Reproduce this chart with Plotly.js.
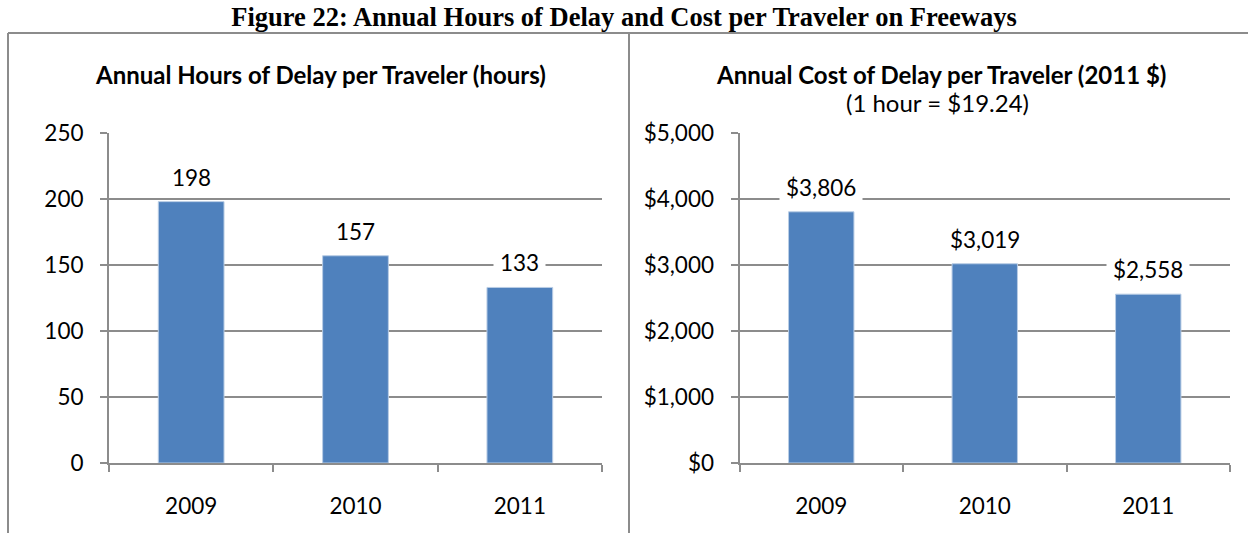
<!DOCTYPE html>
<html><head><meta charset="utf-8">
<script src="https://cdn.plot.ly/plotly-3.0.1.min.js"></script>
<style>html,body{margin:0;padding:0;background:#fff;}#chart{width:1248px;height:533px;}</style>
</head><body><div id="chart"></div>
<script>
const years = ['2009', '2010', '2011'];
const hoursPerTraveler = [198, 157, 133];
const costPerTraveler = [3806, 3019, 2558];
const hoursTicks = [0, 50, 100, 150, 200, 250];
const costTicks = [0, 1000, 2000, 3000, 4000, 5000];
const mainTitle = 'Figure 22: Annual Hours of Delay and Cost per Traveler on Freeways';
const leftTitle = 'Annual Hours of Delay per Traveler (hours)';
const rightTitle = 'Annual Cost of Delay per Traveler (2011 $)';
const rightSubtitle = '(1 hour = $19.24)';

const W = 1248, H = 533;
const px = v => v / W;
const py = v => 1 - v / H;
const barColor = '#4F81BD';
const gray = '#8c8c8c';
const font = 'Lato, "Open Sans", sans-serif';
const money = v => '$' + v.toLocaleString('en-US');

const traces = [
  {type: 'bar', x: years, y: hoursPerTraveler, xaxis: 'x', yaxis: 'y',
   marker: {color: barColor, line: {color: '#b9cde5', width: 1}}, hoverinfo: 'skip'},
  {type: 'bar', x: years, y: costPerTraveler, xaxis: 'x2', yaxis: 'y2',
   marker: {color: barColor, line: {color: '#b9cde5', width: 1}}, hoverinfo: 'skip'}
];

const axisCommon = {
  showline: true, linecolor: gray, linewidth: 2,
  ticks: 'outside', ticklen: 7, tickcolor: gray, tickwidth: 2,
  tickfont: {family: font, size: 22.5, color: '#000'},
  zeroline: false, fixedrange: true
};

const yDom = [py(463), py(133)];

const annotations = [];
years.forEach((yr, i) => {
  annotations.push({x: i, y: hoursPerTraveler[i], xref: 'x', yref: 'y',
    text: String(hoursPerTraveler[i]), showarrow: false, yanchor: 'bottom', yshift: 4,
    bgcolor: '#fff', borderpad: 6, font: {family: font, size: 22.5, color: '#000'}});
  annotations.push({x: i, y: costPerTraveler[i], xref: 'x2', yref: 'y2',
    text: money(costPerTraveler[i]), showarrow: false, yanchor: 'bottom', yshift: 4,
    bgcolor: '#fff', borderpad: 6, font: {family: font, size: 22.5, color: '#000'}});
});
annotations.push({xref: 'paper', yref: 'paper', x: px(320), y: py(74), text: '<b>' + leftTitle + '</b>',
  showarrow: false, xanchor: 'center', yanchor: 'middle', font: {family: font, size: 24, color: '#000'}});
annotations.push({xref: 'paper', yref: 'paper', x: px(941), y: py(74), text: '<b>' + rightTitle + '</b>',
  showarrow: false, xanchor: 'center', yanchor: 'middle', font: {family: font, size: 24, color: '#000'}});
annotations.push({xref: 'paper', yref: 'paper', x: px(937), y: py(102), text: rightSubtitle,
  showarrow: false, xanchor: 'center', yanchor: 'middle', font: {family: font, size: 24, color: '#000'}});

const layout = {
  width: W, height: H, autosize: false,
  margin: {l: 0, r: 0, t: 0, b: 0},
  paper_bgcolor: '#fff', plot_bgcolor: '#fff',
  showlegend: false, bargap: 0.6,
  title: {text: '<b>' + mainTitle + '</b>', x: 0.5, xanchor: 'center', y: 1 - 17 / H, yanchor: 'middle',
    font: {family: '"Liberation Serif", "Times New Roman", serif', size: 26.5, color: '#000'}},
  xaxis: Object.assign({}, axisCommon, {domain: [px(109), px(602)], type: 'category', tickson: 'boundaries',
    range: [-0.5, 2.5], tickangle: 0, ticklabelstandoff: 22}),
  yaxis: Object.assign({}, axisCommon, {domain: yDom, range: [0, 250], tickvals: hoursTicks,
    showgrid: true, gridcolor: gray, gridwidth: 2, ticklabelstandoff: 12}),
  xaxis2: Object.assign({}, axisCommon, {domain: [px(739.5), px(1230)], type: 'category', tickson: 'boundaries',
    range: [-0.5, 2.5], tickangle: 0, anchor: 'y2', ticklabelstandoff: 22}),
  yaxis2: Object.assign({}, axisCommon, {domain: yDom, range: [0, 5000], tickmode: 'array',
    tickvals: costTicks, ticktext: costTicks.map(money), anchor: 'x2',
    showgrid: true, gridcolor: gray, gridwidth: 2, ticklabelstandoff: 12}),
  annotations: annotations,
  shapes: [
    {type: 'line', xref: 'paper', yref: 'paper', x0: px(8), x1: 1, y0: py(33), y1: py(33), line: {color: gray, width: 2}},
    {type: 'line', xref: 'paper', yref: 'paper', x0: px(8), x1: px(8), y0: py(33), y1: 0, line: {color: gray, width: 2}},
    {type: 'line', xref: 'paper', yref: 'paper', x0: px(629), x1: px(629), y0: py(33), y1: 0, line: {color: gray, width: 2}}
  ]
};

Plotly.newPlot('chart', traces, layout, {displayModeBar: false, staticPlot: true});
</script></body></html>
